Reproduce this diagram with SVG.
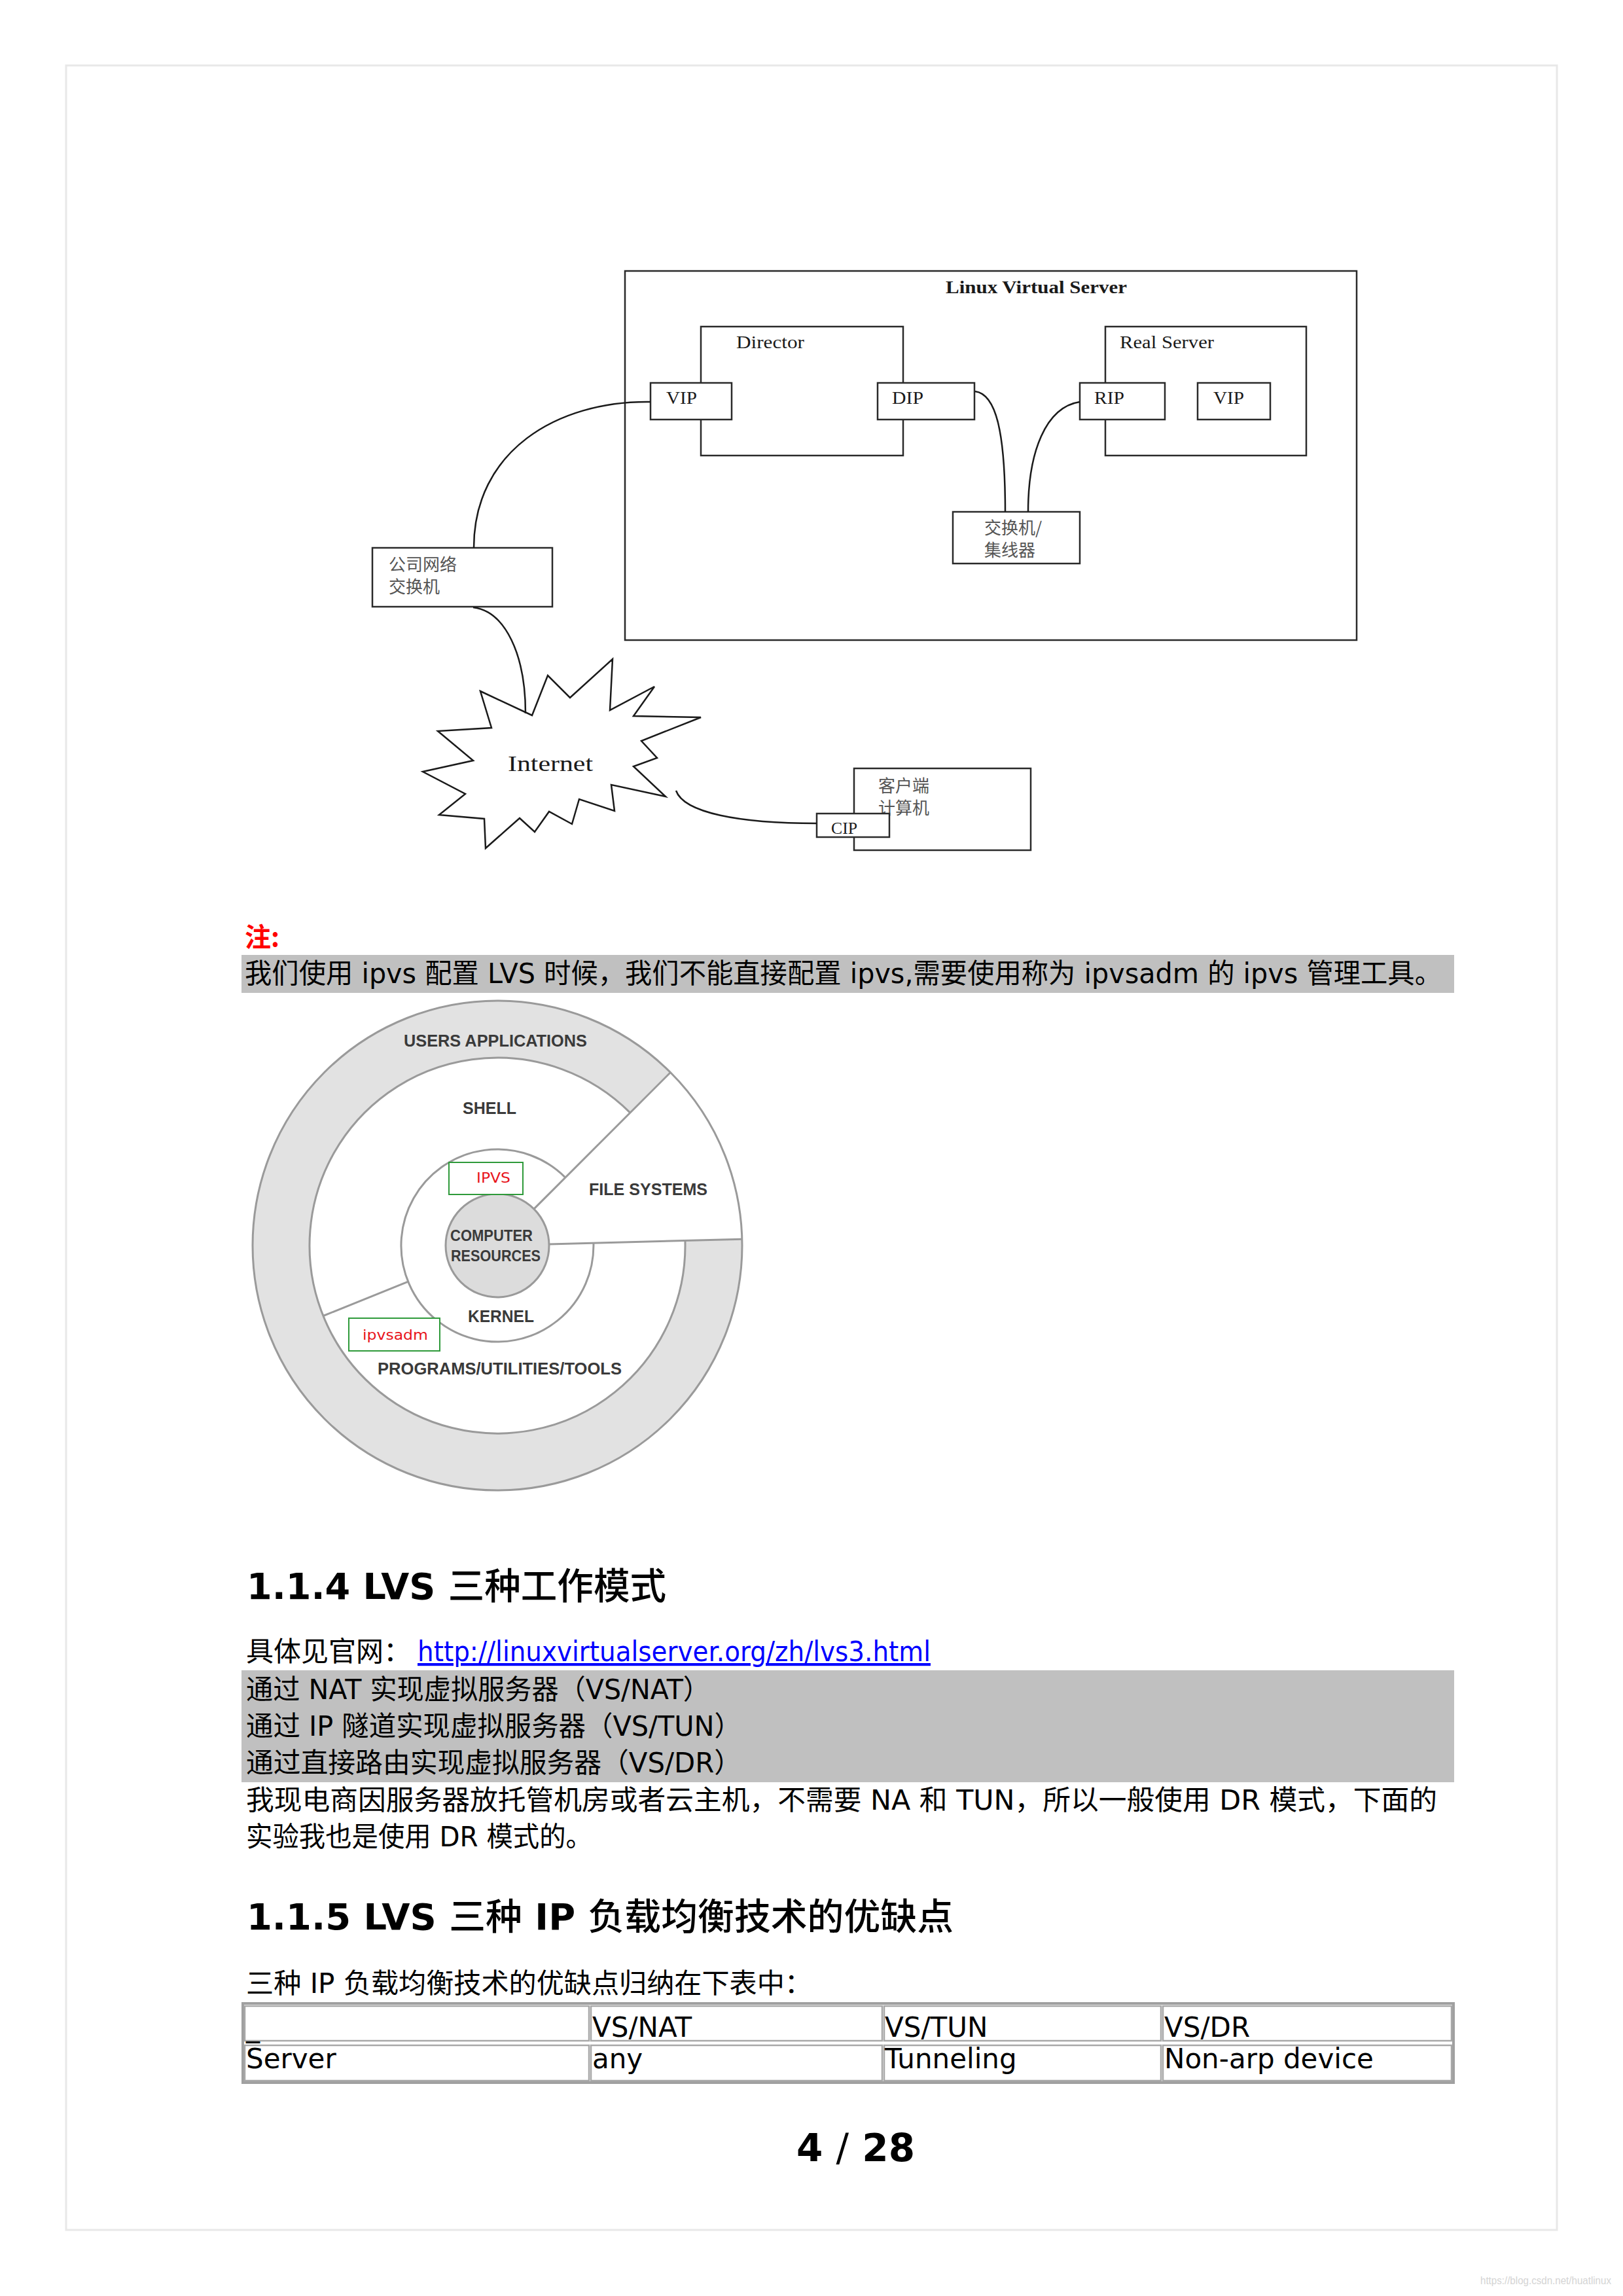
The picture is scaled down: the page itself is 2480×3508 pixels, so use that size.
<svg xmlns="http://www.w3.org/2000/svg" width="2480" height="3508" viewBox="0 0 2480 3508">
<style>
.bx{fill:#fff;stroke:#2a2a2a;stroke-width:2.5}
.ln{fill:none;stroke:#1a1a1a;stroke-width:2.5}
.lt{font-family:"Liberation Serif","Noto Sans CJK SC",serif;font-size:27px;fill:#1a1a1a}
.cj{font-family:"Noto Sans CJK SC",sans-serif;font-size:26px;fill:#555}
.body{font-family:"DejaVu Sans","Noto Sans CJK SC",sans-serif;font-size:42px;fill:#000}
.link{font-family:"DejaVu Sans",sans-serif;font-size:42px;fill:#0000ff;text-decoration:underline}
.h{font-family:"DejaVu Sans","Noto Sans CJK SC",sans-serif;font-size:56px;font-weight:bold;fill:#000}
.kl{font-family:"Liberation Sans",Arial,sans-serif;font-weight:bold;font-size:26px;fill:#3a3a3a}
.kr{fill:#e2e2e2;stroke:none}
.ks{fill:none;stroke:#9a9a9a;stroke-width:3}
.red{font-family:"DejaVu Sans",sans-serif;font-size:22px;fill:#e8141b}
.tb{fill:none;stroke:#a8a8a8;stroke-width:2.5}
.td{font-family:"DejaVu Sans",sans-serif;font-size:42px;fill:#000}
</style>
<rect x="0" y="0" width="2480" height="3508" fill="#fff"/>
<rect x="101" y="100" width="2278" height="3307" fill="none" stroke="#e8e8e8" stroke-width="3"/>

<!-- LVS diagram -->
<g id="lvs">
<rect class="bx" x="955" y="414" width="1118" height="564"/>
<text class="lt" x="1445" y="448" style="font-weight:bold" textLength="277" lengthAdjust="spacingAndGlyphs">Linux Virtual Server</text>
</g>
<g id="director">
<rect class="bx" x="1071" y="499" width="309" height="197"/>
<text class="lt" x="1125" y="532" textLength="104" lengthAdjust="spacingAndGlyphs">Director</text>
</g>
<g id="vip1">
<rect class="bx" x="994" y="585" width="124" height="56"/>
<text class="lt" x="1018" y="617" textLength="47" lengthAdjust="spacingAndGlyphs">VIP</text>
</g>
<g id="dip">
<rect class="bx" x="1341" y="585" width="148" height="56"/>
<text class="lt" x="1363" y="617" textLength="48" lengthAdjust="spacingAndGlyphs">DIP</text>
</g>
<g id="realserver">
<rect class="bx" x="1689" y="499" width="307" height="197"/>
<text class="lt" x="1711" y="532" textLength="144" lengthAdjust="spacingAndGlyphs">Real Server</text>
</g>
<g id="rip">
<rect class="bx" x="1650" y="585" width="130" height="56"/>
<text class="lt" x="1672" y="617" textLength="46" lengthAdjust="spacingAndGlyphs">RIP</text>
</g>
<g id="vip2">
<rect class="bx" x="1830" y="585" width="111" height="56"/>
<text class="lt" x="1854" y="617" textLength="47" lengthAdjust="spacingAndGlyphs">VIP</text>
</g>
<g id="hub">
<rect class="bx" x="1456" y="782" width="194" height="79"/>
<text class="cj" x="1504" y="816">交换机/</text>
<text class="cj" x="1504" y="850">集线器</text>
</g>
<g id="corpswitch">
<rect class="bx" x="569" y="837" width="275" height="90"/>
<text class="cj" x="594" y="872">公司网络</text>
<text class="cj" x="594" y="906">交换机</text>
</g>
<g id="internet">
<polygon points="734,1056 813,1093 837,1032 871,1066 936,1007 932,1085 1000,1049 968,1094 1071,1096 980,1132 1004,1158 968,1171 1017,1217 934,1199 939,1239 885,1221 874,1259 839,1240 817,1271 794,1250 742,1296 740,1251 671,1245 711,1213 646,1179 723,1162 669,1117 751,1112" fill="#fff" stroke="#1a1a1a" stroke-width="2.5" stroke-linejoin="miter"/>
<text class="lt" x="776" y="1178" style="font-size:34px" textLength="130" lengthAdjust="spacingAndGlyphs">Internet</text>
</g>
<g id="client">
<rect class="bx" x="1305" y="1174" width="270" height="125"/>
<text class="cj" x="1342" y="1210">客户端</text>
<text class="cj" x="1342" y="1244">计算机</text>
</g>
<g id="cip">
<rect class="bx" x="1248" y="1243" width="111" height="36"/>
<text class="lt" x="1270" y="1274" style="font-size:25px" textLength="40" lengthAdjust="spacingAndGlyphs">CIP</text>
</g>
<g id="connectors">
<path class="ln" d="M994 614 C850 612 724 690 724 837"/>
<path class="ln" d="M723 928 C772 934 803 1000 803 1090"/>
<path class="ln" d="M1033 1208 C1045 1242 1130 1258 1248 1258"/>
<path class="ln" d="M1490 598 C1522 602 1536 660 1536 782"/>
<path class="ln" d="M1650 614 C1598 622 1571 690 1571 782"/>
</g>

<!-- note -->
<text x="374" y="1446" font-family="'Noto Sans CJK SC',sans-serif" font-size="40" font-weight="bold" fill="#ff0000">注:</text>
<rect x="369" y="1459" width="1853" height="58" fill="#c0c0c0"/>
<text class="body" x="374" y="1502" textLength="1829" lengthAdjust="spacingAndGlyphs">我们使用 ipvs 配置 LVS 时候，我们不能直接配置 ipvs,需要使用称为 ipvsadm 的 ipvs 管理工具。</text>

<!-- kernel diagram -->
<g id="kernel-diagram">
<path class="kr" d="M1133.9 1893.2 A374 374 0 1 1 1024.5 1638.5 L962.9 1700.1 A287 287 0 1 0 1046.9 1895.5 Z"/>
<circle class="ks" cx="760" cy="1903" r="374"/>
<path class="ks" d="M962.9 1700.1 A287 287 0 1 0 1046.9 1895.5"/>
<path class="ks" d="M906.9 1899.2 A147 147 0 1 1 863.9 1799.1"/>
<line class="ks" x1="815.9" y1="1847.1" x2="1024.5" y2="1638.5"/>
<line class="ks" x1="839" y1="1900.9" x2="1133.9" y2="1893.2"/>
<line class="ks" x1="623.7" y1="1958.1" x2="493.9" y2="2010.5"/>
<circle cx="760" cy="1903" r="79" fill="#dcdcdc" stroke="#9a9a9a" stroke-width="3"/>
<text class="kl" x="617" y="1599" textLength="280" lengthAdjust="spacingAndGlyphs">USERS APPLICATIONS</text>
<text class="kl" x="707" y="1702" textLength="82" lengthAdjust="spacingAndGlyphs">SHELL</text>
<text class="kl" x="900" y="1826" textLength="181" lengthAdjust="spacingAndGlyphs">FILE SYSTEMS</text>
<text class="kl" x="688" y="1896" style="font-size:24px" textLength="126" lengthAdjust="spacingAndGlyphs">COMPUTER</text>
<text class="kl" x="689" y="1927" style="font-size:24px" textLength="137" lengthAdjust="spacingAndGlyphs">RESOURCES</text>
<text class="kl" x="715" y="2020" textLength="101" lengthAdjust="spacingAndGlyphs">KERNEL</text>
<text class="kl" x="577" y="2100" textLength="373" lengthAdjust="spacingAndGlyphs">PROGRAMS/UTILITIES/TOOLS</text>
<g id="ipvs">
<rect x="686" y="1776" width="113" height="49" fill="#fff" stroke="#2e9a3a" stroke-width="2"/>
<text class="red" x="728" y="1807" textLength="52" lengthAdjust="spacingAndGlyphs">IPVS</text>
</g>
<g id="ipvsadm">
<rect x="533" y="2014" width="139" height="50" fill="#fff" stroke="#2e9a3a" stroke-width="2"/>
<text class="red" x="554" y="2047" textLength="100" lengthAdjust="spacingAndGlyphs">ipvsadm</text>
</g>
</g>

<!-- section 1.1.4 -->
<text class="h" x="377" y="2443" textLength="641" lengthAdjust="spacingAndGlyphs">1.1.4 LVS <tspan style="font-weight:500">三种工作模式</tspan></text>
<text class="body" x="376" y="2538">具体见官网：</text>
<text class="link" x="638" y="2538" textLength="784" lengthAdjust="spacingAndGlyphs">http://linuxvirtualserver.org/zh/lvs3.html</text>
<rect x="369" y="2552" width="1853" height="171" fill="#c0c0c0"/>
<text class="body" x="376" y="2596" textLength="709" lengthAdjust="spacingAndGlyphs">通过 NAT 实现虚拟服务器（VS/NAT）</text>
<text class="body" x="376" y="2652" textLength="757" lengthAdjust="spacingAndGlyphs">通过 IP 隧道实现虚拟服务器（VS/TUN）</text>
<text class="body" x="376" y="2708" textLength="757" lengthAdjust="spacingAndGlyphs">通过直接路由实现虚拟服务器（VS/DR）</text>
<text class="body" x="376" y="2765" textLength="1820" lengthAdjust="spacingAndGlyphs">我现电商因服务器放托管机房或者云主机，不需要 NA 和 TUN，所以一般使用 DR 模式，下面的</text>
<text class="body" x="376" y="2821" textLength="529" lengthAdjust="spacingAndGlyphs">实验我也是使用 DR 模式的。</text>

<!-- section 1.1.5 -->
<text class="h" x="377" y="2948" textLength="1080" lengthAdjust="spacingAndGlyphs">1.1.5 LVS <tspan style="font-weight:500">三种</tspan> IP <tspan style="font-weight:500">负载均衡技术的优缺点</tspan></text>
<text class="body" x="376" y="3045" textLength="865" lengthAdjust="spacingAndGlyphs">三种 IP 负载均衡技术的优缺点归纳在下表中：</text>

<g id="table">
<rect x="371" y="3061" width="1850" height="121" fill="none" stroke="#a0a0a0" stroke-width="4"/>
<rect class="tb" x="374" y="3065" width="526" height="53"/>
<rect class="tb" x="903" y="3065" width="445" height="53"/>
<rect class="tb" x="1351" y="3065" width="423" height="53"/>
<rect class="tb" x="1777" y="3065" width="441" height="53"/>
<rect class="tb" x="374" y="3125" width="526" height="54"/>
<rect class="tb" x="903" y="3125" width="445" height="54"/>
<rect class="tb" x="1351" y="3125" width="423" height="54"/>
<rect class="tb" x="1777" y="3125" width="441" height="54"/>
<text class="td" x="376" y="3112">_</text>
<text class="td" x="905" y="3112">VS/NAT</text>
<text class="td" x="1352" y="3112">VS/TUN</text>
<text class="td" x="1779" y="3112">VS/DR</text>
<text class="td" x="376" y="3160">Server</text>
<text class="td" x="905" y="3160">any</text>
<text class="td" x="1352" y="3160">Tunneling</text>
<text class="td" x="1779" y="3160">Non-arp device</text>
</g>

<text x="1217" y="3302" font-family="'DejaVu Sans',sans-serif" font-size="58" font-weight="bold" fill="#000">4 <tspan font-weight="normal">/</tspan> 28</text>
<text x="2262" y="3490" font-family="'Liberation Sans',Arial,sans-serif" font-size="17" fill="#d4d4d4" textLength="200" lengthAdjust="spacingAndGlyphs">https://blog.csdn.net/huatlinux</text>
</svg>
